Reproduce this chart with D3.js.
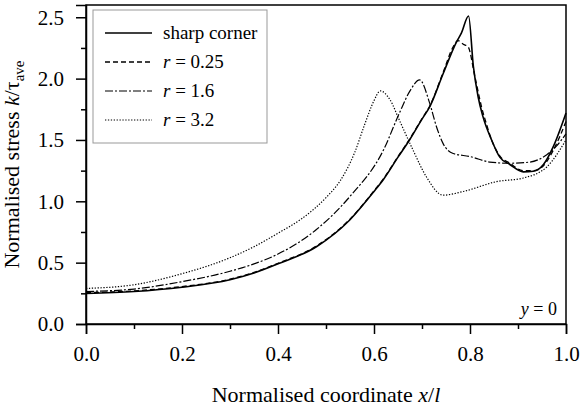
<!DOCTYPE html>
<meta charset="utf-8">
<body style="margin:0">
<script src="https://d3js.org/d3.v7.min.js"></script>
<script>

// sharp corner
const sharpX = [0, 0.1, 0.2, 0.3, 0.35, 0.4, 0.48, 0.55, 0.6, 0.62, 0.65, 0.674, 0.7, 0.716, 0.744, 0.772, 0.782, 0.797, 0.807, 0.817, 0.827, 0.845, 0.862, 0.883, 0.911, 0.932, 0.953, 0.974, 1.0];
const sharpY = [0.25, 0.265, 0.30, 0.36, 0.415, 0.49, 0.63, 0.85, 1.08, 1.18, 1.36, 1.50, 1.67, 1.77, 2.04, 2.30, 2.37, 2.51, 2.10, 1.85, 1.69, 1.50, 1.36, 1.30, 1.24, 1.245, 1.30, 1.45, 1.72];

// r = 0.25
const r025X = [0, 0.1, 0.2, 0.3, 0.35, 0.4, 0.48, 0.55, 0.6, 0.62, 0.65, 0.674, 0.7, 0.716, 0.744, 0.765, 0.775, 0.786, 0.796, 0.81, 0.824, 0.835, 0.845, 0.862, 0.883, 0.911, 0.932, 0.953, 0.974, 1.0];
const r025Y = [0.255, 0.27, 0.305, 0.365, 0.42, 0.495, 0.635, 0.855, 1.085, 1.185, 1.365, 1.505, 1.675, 1.775, 2.05, 2.26, 2.31, 2.28, 2.26, 2.02, 1.77, 1.62, 1.50, 1.37, 1.31, 1.25, 1.25, 1.29, 1.42, 1.65];

// r = 1.6
const r16X = [0, 0.1, 0.2, 0.3, 0.35, 0.4, 0.48, 0.55, 0.62, 0.653, 0.675, 0.695, 0.716, 0.730, 0.744, 0.765, 0.80, 0.841, 0.883, 0.925, 0.96, 0.98, 1.0];
const r16Y = [0.265, 0.285, 0.345, 0.43, 0.49, 0.57, 0.77, 1.04, 1.42, 1.72, 1.90, 1.99, 1.80, 1.61, 1.47, 1.39, 1.365, 1.32, 1.31, 1.32, 1.38, 1.45, 1.55];

// r = 3.2
const r32X = [0, 0.1, 0.2, 0.3, 0.35, 0.4, 0.45, 0.5, 0.53, 0.56, 0.58, 0.60, 0.613, 0.633, 0.653, 0.681, 0.709, 0.744, 0.786, 0.855, 0.911, 0.96, 1.0];
const r32Y = [0.29, 0.32, 0.41, 0.54, 0.63, 0.74, 0.86, 1.03, 1.17, 1.40, 1.62, 1.82, 1.90, 1.83, 1.66, 1.42, 1.20, 1.05, 1.08, 1.16, 1.19, 1.28, 1.50];

const legendLabels = ["sharp corner", "0.25", "1.6", "3.2"];
const xTicks = [0, 0.2, 0.4, 0.6, 0.8, 1.0];
const yTicks = [0, 0.5, 1.0, 1.5, 2.0, 2.5];

const width = 580, height = 410,
      margin = {left: 86, right: 14, top: 5, bottom: 86},
      serif = "Liberation Serif";

const svg = d3.select("body").append("svg")
    .attr("width", width)
    .attr("height", height)
    .attr("font-family", serif);

const x = d3.scaleLinear().domain([0, 1]).range([margin.left, width - margin.right]),
      y = d3.scaleLinear().domain([0, 2.6]).range([height - margin.bottom, margin.top]);

const series = [
    {xs: sharpX, ys: sharpY, dash: null, w: 1.6},
    {xs: r025X, ys: r025Y, dash: "5,3", w: 1.3},
    {xs: r16X, ys: r16Y, dash: "8,2,2,2", w: 1.2},
    {xs: r32X, ys: r32Y, dash: "1.3,1.6", w: 1.2}
];

const line = d3.line()
    .x(d => x(d[0]))
    .y(d => y(d[1]))
    .curve(d3.curveMonotoneX);

svg.append("g")
    .attr("fill", "none")
    .attr("stroke", "#000")
  .selectAll("path")
  .data(series)
  .join("path")
    .attr("d", s => line(s.xs.map((v, i) => [v, s.ys[i]])))
    .attr("stroke-width", s => s.w)
    .attr("stroke-dasharray", s => s.dash);

// frame
svg.append("rect")
    .attr("x", x(0))
    .attr("y", y(2.6))
    .attr("width", x(1) - x(0))
    .attr("height", y(0) - y(2.6))
    .attr("fill", "none")
    .attr("stroke", "#000")
    .attr("stroke-width", 1.5);

// axes
svg.append("g")
    .attr("transform", `translate(0,${y(0)})`)
    .call(d3.axisBottom(x).tickValues(xTicks).tickFormat(d3.format(".1f")).tickSize(10).tickPadding(12))
    .attr("font-family", serif).attr("font-size", 21);
svg.append("g")
    .attr("transform", `translate(0,${y(0)})`)
    .call(d3.axisBottom(x).tickValues(d3.range(0.1, 1, 0.2)).tickFormat("").tickSize(5))
    .call(g => g.select(".domain").remove());

svg.append("g")
    .attr("transform", `translate(${x(0)},0)`)
    .call(d3.axisLeft(y).tickValues(yTicks).tickFormat(d3.format(".1f")).tickSize(10).tickPadding(12))
    .attr("font-family", serif).attr("font-size", 21);
svg.append("g")
    .attr("transform", `translate(${x(0)},0)`)
    .call(d3.axisLeft(y).tickValues(d3.range(0.25, 2.6, 0.5)).tickFormat("").tickSize(5))
    .call(g => g.select(".domain").remove());

svg.selectAll(".domain").attr("stroke-width", 1.5);
svg.selectAll(".tick line").attr("stroke-width", 1.5);

// axis titles
const xt = svg.append("text")
    .attr("x", (x(0) + x(1)) / 2)
    .attr("y", 402)
    .attr("text-anchor", "middle")
    .attr("font-size", 22);
xt.append("tspan").text("Normalised coordinate ");
xt.append("tspan").attr("font-style", "italic").text("x");
xt.append("tspan").text("/");
xt.append("tspan").attr("font-style", "italic").text("l");

const yt = svg.append("text")
    .attr("transform", `translate(19,${(y(0) + y(2.6)) / 2}) rotate(-90)`)
    .attr("text-anchor", "middle")
    .attr("font-size", 22);
yt.append("tspan").text("Normalised stress ");
yt.append("tspan").attr("font-style", "italic").text("k");
yt.append("tspan").text("/τ");
yt.append("tspan").attr("font-size", 15).attr("dy", 5).text("ave");

// y = 0 note
const note = svg.append("text")
    .attr("x", x(1) - 9)
    .attr("y", y(0) - 9)
    .attr("text-anchor", "end")
    .attr("font-size", 18);
note.append("tspan").attr("font-style", "italic").text("y");
note.append("tspan").text(" = 0");

// legend
const legend = svg.append("g").attr("transform", `translate(${x(0) + 7},${y(2.6) + 5})`);
legend.append("rect")
    .attr("width", 174)
    .attr("height", 133)
    .attr("fill", "#fff")
    .attr("stroke", "#999")
    .attr("stroke-width", 1);

const item = legend.selectAll("g.item")
    .data(series)
    .join("g")
    .attr("class", "item")
    .attr("transform", (d, i) => `translate(0,${23 + i * 29})`);

item.append("line")
    .attr("x1", 12).attr("x2", 59)
    .attr("stroke", "#000")
    .attr("stroke-width", d => d.w)
    .attr("stroke-dasharray", d => d.dash);

item.each(function(d, i) {
    const t = d3.select(this).append("text")
        .attr("x", 70)
        .attr("dy", "0.33em")
        .attr("font-size", 19);
    if (i === 0) {
        t.text(legendLabels[i]);
    } else {
        t.append("tspan").attr("font-style", "italic").text("r");
        t.append("tspan").text(" = " + legendLabels[i]);
    }
});

svg.selectAll("text").attr("font-family", serif).attr("fill", "#000");

</script>
</body>
